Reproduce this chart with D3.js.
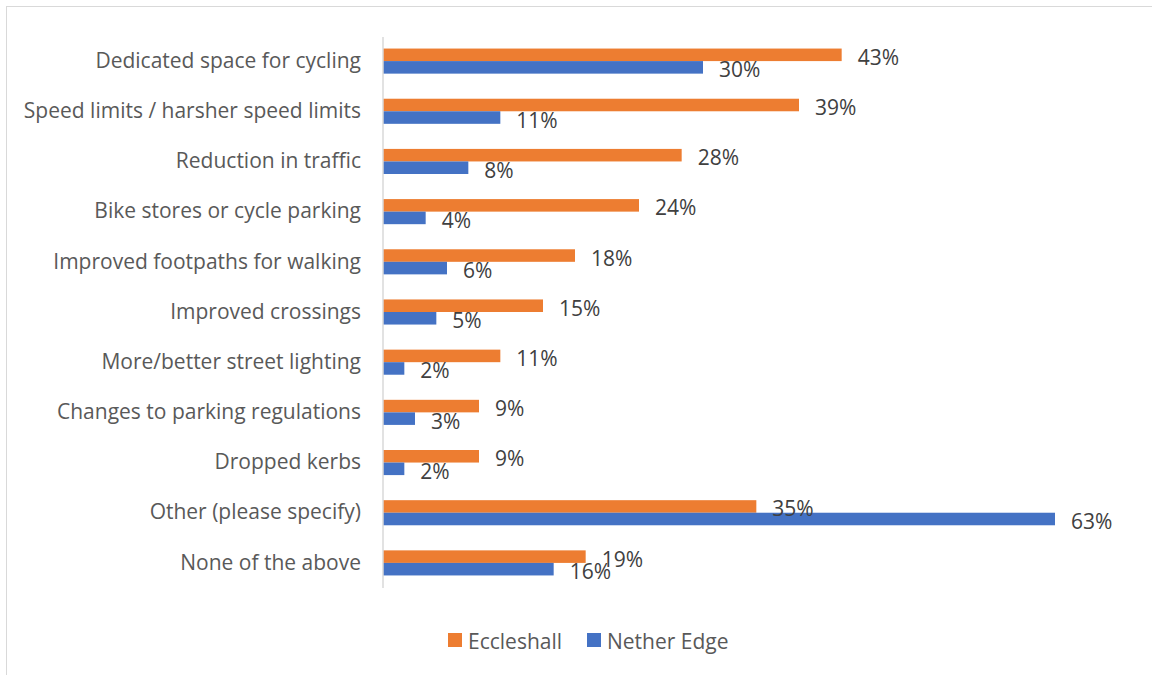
<!DOCTYPE html>
<html>
<head>
<meta charset="utf-8">
<script src="https://cdn.jsdelivr.net/npm/d3@7"></script>
<style>
  body { margin: 0; background: #fff; }
  svg { display: block; font-family: "Open Sans", sans-serif; }
</style>
</head>
<body>
<div class="container"></div>
<script>
// categories, top to bottom
const categories = [
  "Dedicated space for cycling",
  "Speed limits / harsher speed limits",
  "Reduction in traffic",
  "Bike stores or cycle parking",
  "Improved footpaths for walking",
  "Improved crossings",
  "More/better street lighting",
  "Changes to parking regulations",
  "Dropped kerbs",
  "Other (please specify)",
  "None of the above"
];
const seriesNames = ["Eccleshall", "Nether Edge"];
const eccleshall = [43, 39, 28, 24, 18, 15, 11, 9, 9, 35, 19];
const netherEdge = [30, 11, 8, 4, 6, 5, 2, 3, 2, 63, 16];
const colors = ["#ED7D31", "#4472C4"];

const W = 1152, H = 675;
const margin = {top: 36, left: 383, right: 97, bottom: 87};
const fontSize = "21px";

const svg = d3.select("div.container").append("svg")
    .attr("width", W)
    .attr("height", H);

// chart area border
svg.append("rect")
    .attr("x", 6.5).attr("y", 6.5)
    .attr("width", W + 10).attr("height", H + 10)
    .attr("fill", "none")
    .attr("stroke", "#d9d9d9")
    .attr("stroke-width", 1);

const x = d3.scaleLinear()
    .domain([0, 63])
    .range([margin.left, W - margin.right]);

const y = d3.scaleBand()
    .domain(categories)
    .range([margin.top, H - margin.bottom])
    .paddingInner(0.5)
    .paddingOuter(0.25);

const ySub = d3.scaleBand()
    .domain(seriesNames)
    .range([0, y.bandwidth()]);

const rows = categories.map((c, i) => ({cat: c, values: [eccleshall[i], netherEdge[i]]}));

const groups = svg.selectAll("g.row")
    .data(rows)
    .enter()
    .append("g")
    .attr("class", "row")
    .attr("transform", d => `translate(0,${y(d.cat)})`);

groups.selectAll("rect")
    .data(d => d.values.map((v, j) => ({name: seriesNames[j], v: v, j: j})))
    .enter()
    .append("rect")
    .attr("x", x(0))
    .attr("y", d => ySub(d.name))
    .attr("width", d => x(d.v) - x(0))
    .attr("height", ySub.bandwidth())
    .attr("fill", d => colors[d.j]);

// value labels
groups.selectAll("text")
    .data(d => d.values.map((v, j) => ({name: seriesNames[j], v: v, j: j})))
    .enter()
    .append("text")
    .attr("x", d => x(d.v) + 16)
    .attr("y", d => ySub(d.name) + ySub.bandwidth() / 2 + 2)
    .attr("dominant-baseline", "central")
    .style("font-size", fontSize)
    .attr("fill", "#404040")
    .text(d => `${d.v}%`);

// category axis
const yAxis = svg.append("g")
    .attr("transform", `translate(${margin.left},0)`)
    .call(d3.axisLeft(y).tickSize(0).tickPadding(22));
yAxis.select(".domain").attr("stroke", "#d9d9d9").attr("stroke-width", 1.5)
    .attr("d", `M0,${margin.top + 1}V${H - margin.bottom}`);
yAxis.selectAll("text")
    .style("font-size", fontSize)
    .style("font-family", "'Open Sans', sans-serif")
    .attr("fill", "#595959");

// legend
const legend = svg.append("g").attr("transform", "translate(448,640)");
const legendX = [0, 139];
seriesNames.forEach((s, i) => {
    const g = legend.append("g").attr("transform", `translate(${legendX[i]},0)`);
    g.append("rect")
        .attr("x", 0).attr("y", -7)
        .attr("width", 14).attr("height", 14)
        .attr("fill", colors[i]);
    g.append("text")
        .attr("x", 20).attr("y", 1)
        .attr("dominant-baseline", "central")
        .style("font-size", fontSize)
        .attr("fill", "#595959")
        .text(s);
});
</script>
</body>
</html>
